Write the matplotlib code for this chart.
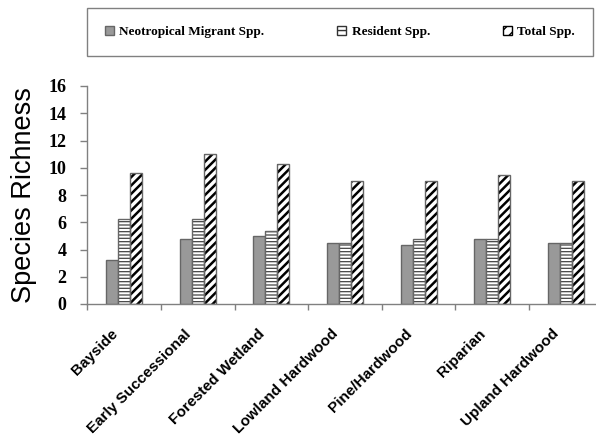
import matplotlib
matplotlib.use("Agg")
import matplotlib.pyplot as plt
import matplotlib.transforms as mtransforms
from matplotlib.patches import Patch
import numpy as np

categories = ["Bayside", "Early Successional", "Forested Wetland", "Lowland Hardwood",
              "Pine/Hardwood", "Riparian", "Upland Hardwood"]
neotropical = [3.25, 4.75, 5.0, 4.45, 4.33, 4.75, 4.45]
resident = [6.25, 6.25, 5.33, 4.45, 4.75, 4.75, 4.45]
total = [9.65, 11.0, 10.3, 9.0, 9.05, 9.5, 9.0]
series_names = ["Neotropical Migrant Spp.", "Resident Spp.", "Total Spp."]
yticks = [0, 2, 4, 6, 8, 10, 12, 14, 16]

W, H = 596, 438
fig = plt.figure(figsize=(W / 100, H / 100), dpi=100)
ax = fig.add_axes([87.4 / W, (H - 304) / H, 515.2 / W, 218 / H])

x = np.arange(len(categories))
bw = 0.163
gray_fill = "#999999"
edge = "#666666"

with plt.rc_context({"hatch.linewidth": 0.9}):
    b1 = ax.bar(x - bw, neotropical, bw, color=gray_fill, edgecolor=edge, linewidth=1, zorder=2)
    b2 = ax.bar(x, resident, bw, color="white", edgecolor="#444444", hatch="-----",
                linewidth=0, zorder=2)
for p in b2:
    if hasattr(p, "set_hatch_linewidth"):
        p.set_hatch_linewidth(0.9)
with plt.rc_context({"hatch.linewidth": 1.8}):
    b3 = ax.bar(x + bw, total, bw, color="white", edgecolor="black", hatch="////",
                linewidth=0, zorder=2)
for p in b3:
    if hasattr(p, "set_hatch_linewidth"):
        p.set_hatch_linewidth(1.8)
ax.bar(x, resident, bw, fill=False, edgecolor=edge, linewidth=1, zorder=3)
ax.bar(x + bw, total, bw, fill=False, edgecolor=edge, linewidth=1, zorder=3)

ax.set_xlim(-0.5, len(categories) - 0.5)
ax.set_ylim(0, 16)
ax.set_yticks(yticks)
ax.set_yticklabels([str(v) for v in yticks], fontfamily="Liberation Serif",
                   fontweight="bold", fontsize=13)

spine_c = "#808080"
for s in ["top", "right"]:
    ax.spines[s].set_visible(False)
for s in ["left", "bottom"]:
    ax.spines[s].set_color(spine_c)
    ax.spines[s].set_linewidth(1)

ax.tick_params(axis="y", direction="out", length=5, width=1, color=spine_c, pad=10)

ax.set_xticks(x)
ax.set_xticks(np.arange(len(categories) + 1) - 0.5, minor=True)
ax.tick_params(axis="x", which="major", length=0, pad=20)
ax.tick_params(axis="x", which="minor", direction="out", length=4.5, width=1, color=spine_c)
ax.set_xticklabels(categories, rotation=45, ha="right", va="center",
                   rotation_mode="anchor", fontfamily="Liberation Sans",
                   fontweight="bold", fontsize=11)
offset = mtransforms.ScaledTranslation(-9 / 100, 0, fig.dpi_scale_trans)
for lab in ax.get_xticklabels():
    lab.set_transform(lab.get_transform() + offset)

ax.set_ylabel("Species Richness", fontfamily="Liberation Sans", fontsize=19.5, labelpad=8)

handles = [
    Patch(facecolor=gray_fill, edgecolor=edge, label=series_names[0]),
    Patch(facecolor="white", edgecolor="#333333", hatch="---", label=series_names[1]),
    Patch(facecolor="white", edgecolor="black", hatch="///", label=series_names[2]),
]
leg = fig.legend(handles=handles, loc="center", ncol=3, mode="expand",
                 bbox_to_anchor=(87 / W, 1 - 57 / H, 506 / W, 50 / H),
                 prop={"family": "Liberation Serif", "weight": "bold", "size": 9.5},
                 frameon=True, fancybox=False, shadow=False, framealpha=1,
                 edgecolor=spine_c, handlelength=0.7, handleheight=0.7,
                 handletextpad=0.4, borderpad=1.35, borderaxespad=0)
leg.get_frame().set_linewidth(1)

fig.savefig("out.png", dpi=100)
